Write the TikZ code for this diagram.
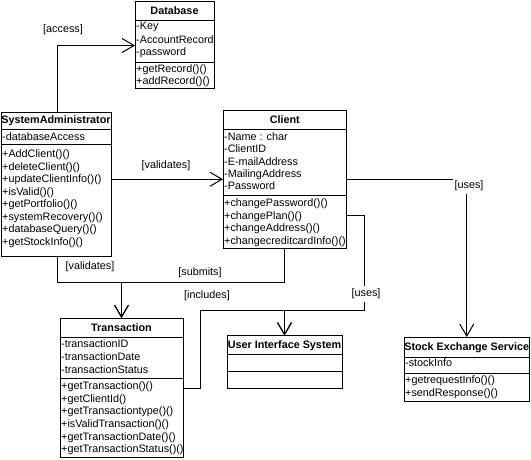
\documentclass[tikz,border=0pt]{standalone}
\usepackage{fontspec}
\setmainfont{Liberation Sans}
\usetikzlibrary{arrows.meta}
\begin{document}
\begin{tikzpicture}[x=1pt,y=-1pt,
  box/.style={draw, line width=1pt, inner sep=0pt, outer sep=0pt, anchor=north west},
  mem/.style={anchor=base west, inner sep=0pt, font=\fontsize{10.8}{13}\selectfont},
  ttl/.style={anchor=base, inner sep=0pt, font=\bfseries\fontsize{10.8}{13}\selectfont},
  lbl/.style={inner sep=2pt, text height=8pt, text depth=2.5pt, font=\fontsize{10.8}{13}\selectfont},
  conn/.style={line width=1pt},
  arr/.style={conn, -{Straight Barb[length=12pt,width=14pt,line width=1pt]}},
  sep/.style={line width=1pt}
]
\fill[white] (0,0) rectangle (531,459);
\useasboundingbox (0,0) rectangle (531,459);

% ---------- Database ----------
\node[box, minimum width=79pt, minimum height=86.5pt] (db) at (135,1.5) {};
\draw[sep] (db.west |- 0,20.5) -- (db.east |- 0,20.5);
\draw[sep] (db.west |- 0,62) -- (db.east |- 0,62);
\node[ttl] (dbt) at (174.5,14) {Database};
\node[mem] (db1) at (136,29.3) {-Key};
\node[mem] (db2) at (136,43.2) {-AccountRecord};
\node[mem] (db3) at (136,55.9) {-password};
\node[mem] (db4) at (136,72.1) {+getRecord()()};
\node[mem] (db5) at (136,84.6) {+addRecord()()};

% ---------- SystemAdministrator ----------
\node[box, minimum width=110pt, minimum height=144.5pt] (sa) at (1,112) {};
\draw[sep] (sa.west |- 0,129) -- (sa.east |- 0,129);
\draw[sep] (sa.west |- 0,144.5) -- (sa.east |- 0,144.5);
\node[ttl] (sat) at (56,123) {SystemAdministrator};
\node[mem] (sa0) at (2,140.5) {-databaseAccess};
\node[mem] (sa1) at (2,157.5) {+AddClient()()};
\node[mem] (sa2) at (2,170.0) {+deleteClient()()};
\node[mem] (sa3) at (2,182.6) {+updateClientInfo()()};
\node[mem] (sa4) at (2,195.1) {+isValid()()};
\node[mem] (sa5) at (2,207.6) {+getPortfolio()()};
\node[mem] (sa6) at (2,220.2) {+systemRecovery()()};
\node[mem] (sa7) at (2,232.7) {+databaseQuery()()};
\node[mem] (sa8) at (2,245.2) {+getStockInfo()()};

% ---------- Client ----------
\node[box, minimum width=123.5pt, minimum height=138.5pt] (cl) at (223,110) {};
\draw[sep] (cl.west |- 0,129.3) -- (cl.east |- 0,129.3);
\draw[sep] (cl.west |- 0,195.5) -- (cl.east |- 0,195.5);
\node[ttl] (clt) at (284.75,123) {Client};
\node[mem] (cl1) at (224,140.3) {-Name : char};
\node[mem] (cl2) at (224,152.7) {-ClientID};
\node[mem] (cl3) at (224,165.1) {-E-mailAddress};
\node[mem] (cl4) at (224,177.5) {-MailingAddress};
\node[mem] (cl5) at (224,189.9) {-Password};
\node[mem] (cl6) at (224,206.3) {+changePassword()()};
\node[mem] (cl7) at (224,219.1) {+changePlan()()};
\node[mem] (cl8) at (224,231.9) {+changeAddress()()};
\node[mem] (cl9) at (224,244.7) {+changecreditcardInfo()()};

% ---------- Transaction ----------
\node[box, minimum width=123pt, minimum height=139.3pt] (tr) at (60,318) {};
\draw[sep] (tr.west |- 0,337) -- (tr.east |- 0,337);
\draw[sep] (tr.west |- 0,378.3) -- (tr.east |- 0,378.3);
\node[ttl] (trt) at (121.5,331) {Transaction};
\node[mem] (tr1) at (61,347.8) {-transactionID};
\node[mem] (tr2) at (61,360.8) {-transactionDate};
\node[mem] (tr3) at (61,373.5) {-transactionStatus};
\node[mem] (tr4) at (61,389.5) {+getTransaction()()};
\node[mem] (tr5) at (61,402.2) {+getClientId()};
\node[mem] (tr6) at (61,414.8) {+getTransactiontype()()};
\node[mem] (tr7) at (61,427.5) {+isValidTransaction()()};
\node[mem] (tr8) at (61,440.1) {+getTransactionDate()()};
\node[mem] (tr9) at (61,452.8) {+getTransactionStatus()()};

% ---------- User Interface System ----------
\node[box, minimum width=115pt, minimum height=52.5pt] (ui) at (227,335.5) {};
\draw[sep] (ui.west |- 0,354.5) -- (ui.east |- 0,354.5);
\draw[sep] (ui.west |- 0,371.5) -- (ui.east |- 0,371.5);
\node[ttl] (uit) at (284.5,348) {User Interface System};

% ---------- Stock Exchange Service ----------
\node[box, minimum width=125.5pt, minimum height=64pt] (se) at (404,337) {};
\draw[sep] (se.west |- 0,357) -- (se.east |- 0,357);
\draw[sep] (se.west |- 0,373.5) -- (se.east |- 0,373.5);
\node[ttl] (set) at (466.75,350) {Stock Exchange Service};
\node[mem] (se1) at (405,366.8) {-stockInfo};
\node[mem] (se2) at (405,383.5) {+getrequestInfo()()};
\node[mem] (se3) at (405,396.5) {+sendResponse()()};

% ---------- connectors ----------
\coordinate (accb) at (57,45.5);
\draw[arr] (sa.north -| accb) |- (db.west |- accb);
\node[lbl] (lacc) at (63,30) {[access]};

\draw[arr] (sa.east |- cl.west) -- (cl.west);
\node[lbl] (lval1) at (166,166) {[validates]};

\coordinate (jt) at (121.5,282);
\draw[arr] (sa.south -| accb) |- (jt) -- (tr.north);
\draw[arr] (cl.south) |- (jt) -- (tr.north);
\node[lbl] (lval2) at (90,267) {[validates]};
\node[lbl] (lsub) at (200,273) {[submits]};

\coordinate (ju) at (284.5,310);
\coordinate (ub) at (364,310);
\coordinate (ib) at (200,310);
\draw[arr] (cl.east |- 0,215) -| (ub) -- (ju) -- (ui.north);
\draw[arr] (tr.east |- 0,388) -| (ib) -- (ju) -- (ui.north);
\node[lbl] (linc) at (207,296) {[includes]};
\node[lbl, fill=white, inner xsep=2pt, inner ysep=3pt] (luse1) at (366,294) {[uses]};

\draw[arr] (cl.east) -| (se.north);
\node[lbl, fill=white, inner xsep=2pt, inner ysep=3pt] (luse2) at (469,186) {[uses]};
\end{tikzpicture}
\end{document}
